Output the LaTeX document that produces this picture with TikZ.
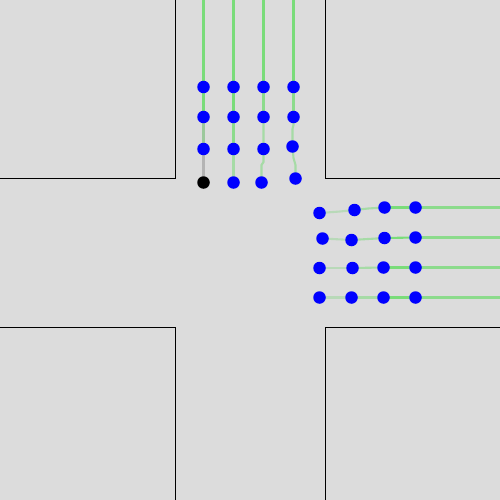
\documentclass[tikz,border=0pt]{standalone}
\usetikzlibrary{backgrounds}
\definecolor{bg}{HTML}{DCDCDC}
\definecolor{trailA}{HTML}{7ADC7A}
\definecolor{trailB}{HTML}{8CDB8C}
\definecolor{trailC}{HTML}{A6DBA6}
\definecolor{trailD}{HTML}{B8D9B8}
\definecolor{trailE}{HTML}{9CC89C}
\definecolor{trailF}{HTML}{B4B4B4}
\tikzset{
  dot/.style={circle,fill=blue,draw=none,minimum size=12.5pt,inner sep=0pt},
  blackdot/.style={circle,fill=black,draw=none,minimum size=12.5pt,inner sep=0pt},
  trail/.style={line width=2.1pt},
  curb/.style={line width=0.9pt,black}
}
\begin{document}
\begin{tikzpicture}[x=1pt,y=-1pt]
\fill[bg] (0,0) rectangle (500,500);
\useasboundingbox (0,0) rectangle (500,500);
% curbs
\coordinate (tl1) at (175,0); \coordinate (tl) at (175,178); \coordinate (tl2) at (0,178);
\coordinate (tr1) at (325,0); \coordinate (tr) at (325,178); \coordinate (tr2) at (500,178);
\coordinate (bl1) at (175,500); \coordinate (bl) at (175,327); \coordinate (bl2) at (0,327);
\coordinate (br1) at (325,500); \coordinate (br) at (325,327); \coordinate (br2) at (500,327);
\draw[curb] (tl1) -- (tl) -- (tl2);
\draw[curb] (tr1) -- (tr) -- (tr2);
\draw[curb] (bl1) -- (bl) -- (bl2);
\draw[curb] (br1) -- (br) -- (br2);
% southbound group coordinates
\coordinate (s0a) at (203.5,0); \coordinate (s1a) at (203.5,87); \coordinate (s2a) at (203.5,117); \coordinate (s3a) at (203.5,149); \coordinate (s4a) at (203.5,182.5);
\coordinate (s0b) at (233.5,0); \coordinate (s1b) at (233.5,87); \coordinate (s2b) at (233.5,117); \coordinate (s3b) at (233.5,149); \coordinate (s4b) at (233.5,182.5);
\coordinate (s0c) at (263.5,0); \coordinate (s1c) at (263.5,87); \coordinate (s2c) at (263.5,117); \coordinate (s3c) at (263.5,149); \coordinate (s4c) at (261.5,182.5);
\coordinate (s0d) at (293.5,0); \coordinate (s1d) at (293.5,87); \coordinate (s2d) at (293.5,117); \coordinate (s3d) at (292.5,146.5); \coordinate (s4d) at (295.5,178.5);
% westbound group coordinates
\coordinate (w0a) at (500,207.5); \coordinate (w1a) at (415.5,207.5); \coordinate (w2a) at (384.5,207.5); \coordinate (w3a) at (354.5,210); \coordinate (w4a) at (319.5,213);
\coordinate (w0b) at (500,237.5); \coordinate (w1b) at (415.5,237.5); \coordinate (w2b) at (384.5,238); \coordinate (w3b) at (351.5,240); \coordinate (w4b) at (322.5,238.5);
\coordinate (w0c) at (500,267.5); \coordinate (w1c) at (415.5,267.5); \coordinate (w2c) at (383.5,267.5); \coordinate (w3c) at (352.5,268); \coordinate (w4c) at (319.5,268);
\coordinate (w0d) at (500,297.5); \coordinate (w1d) at (415.5,297.5); \coordinate (w2d) at (383.5,297.5); \coordinate (w3d) at (351.5,297.5); \coordinate (w4d) at (319.5,297.5);
% trails southbound
\draw[trail,color=trailA] (s0a) -- (s1a) -- (s2a);
\draw[trail,color=trailE] (s2a) -- (s3a);
\draw[trail,color=trailF] (s3a) -- (s4a);
\draw[trail,color=trailA] (s0b) -- (s1b) -- (s2b);
\draw[trail,color=trailB] (s2b) -- (s3b);
\draw[trail,color=trailC] (s3b) -- (s4b);
\draw[trail,color=trailA] (s0c) -- (s1c);
\draw[trail,color=trailB] (s1c) -- (s2c);
\draw[trail,color=trailC] (s2c) -- (s3c) -- (263.5,162) -- (261.5,165) -- (s4c);
\draw[trail,color=trailA] (s0d) -- (s1d);
\draw[trail,color=trailB] (s1d) -- (s2d);
\draw[trail,color=trailC] (s2d) -- (293.5,125) -- (292.5,129) -- (s3d) -- (293.5,158) -- (295.5,165) -- (s4d);
% trails westbound
\draw[trail,color=trailB] (w0a) -- (w1a);
\draw[trail,color=trailA] (w1a) -- (w2a);
\draw[trail,color=trailC] (w2a) -- (368,208.5) -- (w3a);
\draw[trail,color=trailD] (w3a) -- (340,211.5) -- (w4a);
\draw[trail,color=trailB] (w0b) -- (w1b);
\draw[trail,color=trailA] (w1b) -- (w2b);
\draw[trail,color=trailC] (w2b) -- (w3b);
\draw[trail,color=trailD] (w3b) -- (w4b);
\draw[trail,color=trailB] (w0c) -- (w1c);
\draw[trail,color=trailA] (w1c) -- (w2c);
\draw[trail,color=trailC] (w2c) -- (w3c);
\draw[trail,color=trailD] (w3c) -- (w4c);
\draw[trail,color=trailB] (w0d) -- (w1d);
\draw[trail,color=trailA] (w1d) -- (w2d);
\draw[trail,color=trailC] (w2d) -- (w3d);
\draw[trail,color=trailD] (w3d) -- (w4d);
% dots
\foreach \c in {a,b,c,d}{
  \foreach \r in {1,2,3}{ \node[dot] (ns\r\c) at (s\r\c) {}; }
  \foreach \r in {1,2,3,4}{ \node[dot] (nw\r\c) at (w\r\c) {}; }
}
\node[blackdot] (ns4a) at (s4a) {};
\node[dot] (ns4b) at (s4b) {};
\node[dot] (ns4c) at (s4c) {};
\node[dot] (ns4d) at (s4d) {};
\end{tikzpicture}
\end{document}
